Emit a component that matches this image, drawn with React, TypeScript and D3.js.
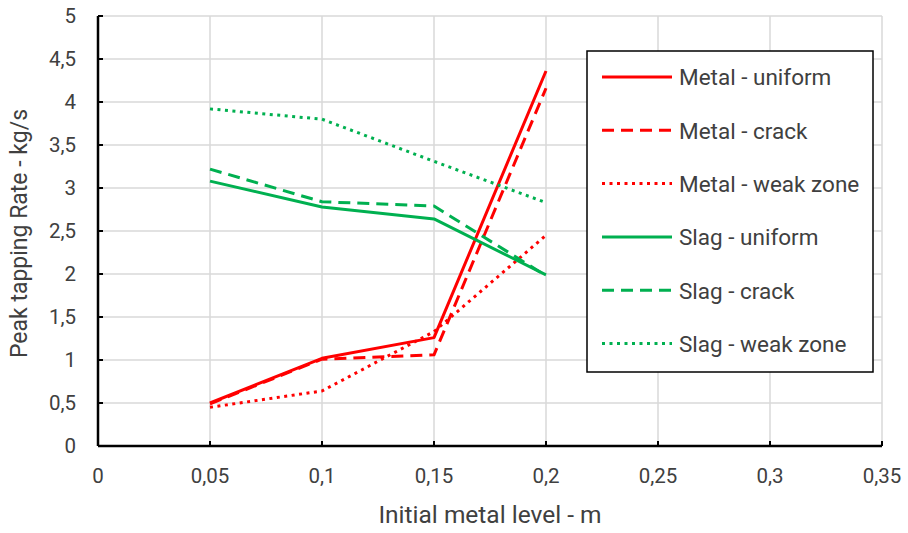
import React from "react";
import * as d3 from "d3";

const xValues = [0.05, 0.1, 0.15, 0.2];
const metalUniform = [0.5, 1.02, 1.26, 4.36];
const metalCrack = [0.49, 1.01, 1.06, 4.16];
const metalWeak = [0.45, 0.64, 1.33, 2.45];
const slagUniform = [3.08, 2.78, 2.64, 1.99];
const slagCrack = [3.22, 2.84, 2.79, 1.98];
const slagWeak = [3.92, 3.8, 3.31, 2.83];

const seriesNames = [
  "Metal - uniform",
  "Metal - crack",
  "Metal - weak zone",
  "Slag - uniform",
  "Slag - crack",
  "Slag - weak zone",
];

const xTicks = [0, 0.05, 0.1, 0.15, 0.2, 0.25, 0.3, 0.35];
const yTicks = [0, 0.5, 1, 1.5, 2, 2.5, 3, 3.5, 4, 4.5, 5];

const RED = "#FF0000";
const GREEN = "#00B050";
const FONT = "Roboto, 'Open Sans', sans-serif";
const TEXT = "#404040";

const fmt = (v: number) => String(v).replace(".", ",");

export default function App() {
  const W = 908;
  const H = 533;
  const x = d3.scaleLinear().domain([0, 0.35]).range([98, 882]);
  const y = d3.scaleLinear().domain([0, 5]).range([446, 16]);

  const styles = [
    { color: RED, dash: "none" },
    { color: RED, dash: "12,7" },
    { color: RED, dash: "3,4.5" },
    { color: GREEN, dash: "none" },
    { color: GREEN, dash: "12,7" },
    { color: GREEN, dash: "3,4.5" },
  ];
  const allSeries = [metalUniform, metalCrack, metalWeak, slagUniform, slagCrack, slagWeak];

  const line = d3
    .line<number>()
    .x((_, i) => x(xValues[i]))
    .y((d) => y(d));

  const legX = 587;
  const legY = 51;
  const legW = 286;
  const legH = 321;
  const legRow0 = 77;
  const legStep = 53.3;

  return (
    <svg
      width={W}
      height={H}
      style={{ position: "absolute", left: 0, top: 0, background: "#fff" }}
      fontFamily={FONT}
    >
      <rect x={0} y={0} width={W} height={H} fill="#fff" />
      {/* gridlines */}
      {yTicks.map((t) => (
        <line key={"gy" + t} x1={x(0)} x2={x(0.35)} y1={y(t)} y2={y(t)} stroke="#D9D9D9" strokeWidth={1.5} />
      ))}
      {xTicks.map((t) => (
        <line key={"gx" + t} x1={x(t)} x2={x(t)} y1={y(0)} y2={y(5)} stroke="#D9D9D9" strokeWidth={1.5} />
      ))}
      {/* axes */}
      <line x1={x(0)} x2={x(0.35)} y1={y(0)} y2={y(0)} stroke="#000" strokeWidth={2.5} />
      <line x1={x(0)} x2={x(0)} y1={y(0)} y2={y(5)} stroke="#000" strokeWidth={2.5} />
      {xTicks.map((t) => (
        <line key={"tx" + t} x1={x(t)} x2={x(t)} y1={y(0)} y2={y(0) - 5} stroke="#000" strokeWidth={2} />
      ))}
      {yTicks.map((t) => (
        <line key={"ty" + t} x1={x(0)} x2={x(0) + 5} y1={y(t)} y2={y(t)} stroke="#000" strokeWidth={2} />
      ))}
      {/* tick labels */}
      {xTicks.map((t) => (
        <text key={"lx" + t} x={x(t)} y={483} textAnchor="middle" fontSize={20.5} fill={TEXT}>
          {fmt(t)}
        </text>
      ))}
      {yTicks.map((t) => (
        <text key={"ly" + t} x={76} y={y(t) + 7} textAnchor="end" fontSize={20.5} fill={TEXT}>
          {fmt(t)}
        </text>
      ))}
      {/* axis titles */}
      <text x={490} y={523} textAnchor="middle" fontSize={24.5} fill={TEXT}>
        Initial metal level - m
      </text>
      <text
        transform={`translate(27,233.5) rotate(-90)`}
        textAnchor="middle"
        fontSize={23}
        fill={TEXT}
      >
        Peak tapping Rate - kg/s
      </text>
      {/* series */}
      {allSeries.map((s, i) => (
        <path
          key={"s" + i}
          d={line(s) || ""}
          fill="none"
          stroke={styles[i].color}
          strokeWidth={3}
          strokeDasharray={styles[i].dash}
          strokeLinejoin="round"
        />
      ))}
      {/* legend */}
      <rect x={legX} y={legY} width={legW} height={legH} fill="#fff" stroke="#000" strokeWidth={1.5} />
      {seriesNames.map((n, i) => {
        const cy = legRow0 + i * legStep;
        return (
          <g key={"leg" + i}>
            <line
              x1={602}
              x2={672}
              y1={cy}
              y2={cy}
              stroke={styles[i].color}
              strokeWidth={3}
              strokeDasharray={styles[i].dash}
            />
            <text x={679} y={cy + 8.3} fontSize={22.5} fill={TEXT}>
              {n}
            </text>
          </g>
        );
      })}
    </svg>
  );
}
